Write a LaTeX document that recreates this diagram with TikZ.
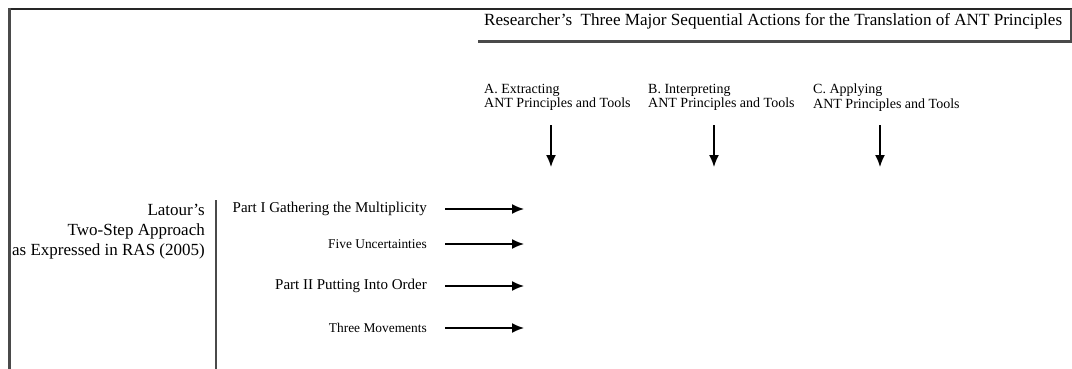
\documentclass[tikz,border=0pt]{standalone}
\usepackage{fontspec}
\setmainfont{Liberation Serif}
\usetikzlibrary{arrows.meta}
\definecolor{rule}{HTML}{4A4A4A}
\tikzset{
  flow/.style={line width=1.5pt,-{Latex[length=12pt,width=10pt]}},
  head/.style={font=\fontsize{17.1}{20}\selectfont,anchor=west,inner sep=0pt},
  colhead/.style={font=\fontsize{14}{14.5}\selectfont,anchor=north west,align=left,inner sep=0pt},
  bigitem/.style={font=\fontsize{15}{18}\selectfont,anchor=east,inner sep=0pt},
  smallitem/.style={font=\fontsize{13.4}{16}\selectfont,anchor=east,inner sep=0pt},
}
\begin{document}
\begin{tikzpicture}[x=1pt,y=-1pt]
\useasboundingbox (0,0) rectangle (1072,369);
% frame rules
\draw[line width=2pt,black!85] (8,9) -- (1072,9);
\draw[line width=3pt,rule] (9.5,8) -- (9.5,369);
\draw[line width=2pt,rule] (1071,9) -- (1071,42);
\draw[line width=3pt,rule] (478,42) -- (1072,42);
\draw[line width=2pt,rule] (216,200) -- (216,369);
% title
\node[head] (title) at (484,21) {Researcher’s\ \ Three Major Sequential Actions for the Translation of ANT Principles};
% three actions
\node[colhead] (ca) at (484,84) {A. Extracting\\ANT Principles and Tools};
\node[colhead] (cb) at (648,84) {B. Interpreting\\ANT Principles and Tools};
\node[colhead] (cc) at (813,84) {C. Applying\\ANT Principles and Tools};
\coordinate (a1) at (551,125); \coordinate (a2) at (551,167);
\coordinate (b1) at (714,125); \coordinate (b2) at (714,167);
\coordinate (c1) at (880,125); \coordinate (c2) at (880,167);
\draw[flow] (a1) -- (a2);
\draw[flow] (b1) -- (b2);
\draw[flow] (c1) -- (c2);
% Latour's approach
\node[font=\fontsize{17}{20}\selectfont,align=right,anchor=north east,inner sep=0pt] (latour) at (205,204) {Latour’s\\Two-Step Approach\\as Expressed in RAS (2005)};
% items
\node[bigitem] (p1) at (427,209) {Part I Gathering the Multiplicity};
\node[smallitem] (p2) at (427,244) {Five Uncertainties};
\node[bigitem] (p3) at (427,286) {Part II Putting Into Order};
\node[smallitem] (p4) at (427,328) {Three Movements};
\coordinate (e1) at (524,209);
\coordinate (e2) at (524,244);
\coordinate (e3) at (524,286);
\coordinate (e4) at (524,328);
\draw[flow] ([xshift=18pt]p1.east) -- (e1);
\draw[flow] ([xshift=18pt]p2.east) -- (e2);
\draw[flow] ([xshift=18pt]p3.east) -- (e3);
\draw[flow] ([xshift=18pt]p4.east) -- (e4);
\end{tikzpicture}
\end{document}
